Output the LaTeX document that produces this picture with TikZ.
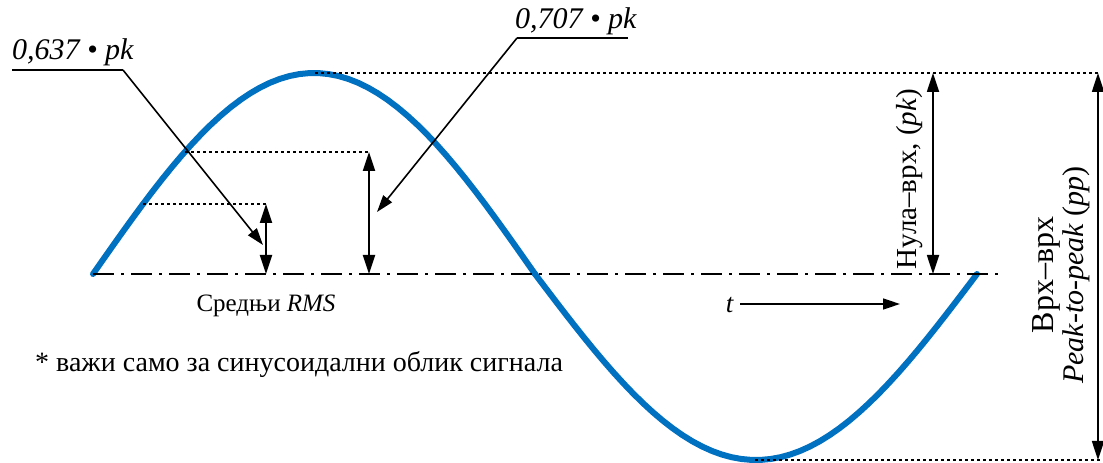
\documentclass[tikz,border=0pt]{standalone}
\usepackage{fontspec}
\setmainfont{Liberation Serif}
\usetikzlibrary{arrows.meta,positioning}
\definecolor{waveblue}{RGB}{0,112,192}

\begin{document}
\begin{tikzpicture}[x=1pt,y=1pt,font=\fontsize{25}{31}\selectfont,
wave/.style={draw=waveblue,line width=6pt,line cap=round,line join=round},
lvl/.style={line width=1.6pt,dash pattern=on 3pt off 3pt},
axisline/.style={line width=1.6pt,dash pattern=on 21pt off 7pt on 3pt off 7pt},
dim/.style={line width=1.8pt,{Triangle[length=19pt,width=12pt]}-{Triangle[length=19pt,width=12pt]}},
lead/.style={line width=1.6pt,-{Triangle[length=17pt,width=11pt]}},
lab/.style={inner sep=0pt},
big/.style={font=\fontsize{30}{30}\selectfont}]
\useasboundingbox (0,0) rectangle (1103,463);
% signal
\draw[wave] plot[domain=0:180,samples=46] ({93+\x*2.4556},{189+201*sin(\x)});
\draw[wave] plot[domain=0:180,samples=46] ({535+\x*2.4556},{189-186*sin(\x)});
% levels
\coordinate (a0) at (93,189);\coordinate (a1) at (1003,189);
\draw[axisline] (a0) -- (a1);
\coordinate (top) at (315,390);\coordinate (topR) at (1100,390);
\coordinate (bot) at (755,3);\coordinate (botR) at (1100,3);
\draw[lvl] (top) -- (topR);\draw[lvl] (bot) -- (botR);
\coordinate (rmsL) at (185,311);\coordinate (rmsR) at (369,311);\coordinate (rms0) at (369,189);
\coordinate (avgL) at (143,259);\coordinate (avgR) at (266,259);\coordinate (avg0) at (266,189);
\draw[lvl] (rmsL) -- (rmsR);\draw[lvl] (avgL) -- (avgR);
\draw[dim] (avgR) -- (avg0);\draw[dim] (rmsR) -- (rms0);
% peak values
\coordinate (pk1) at (933,390);\coordinate (pk0) at (933,189);
\draw[dim] (pk1) -- (pk0);
\node[lab,rotate=90,font=\fontsize{29}{31}\selectfont] (npk) at (910,284) {Нула–врх, (\textit{pk})};
\coordinate (pp1) at (1098,390);\coordinate (pp0) at (1098,3);
\draw[dim] (pp1) -- (pp0);
\node[lab,big,rotate=90,align=center] (npp) at (1061,188) {{\fontsize{32}{30}\selectfont Врх–врх}\\\textit{Peak-to-peak} (\textit{pp})};
% leaders
\node[lab,big,anchor=base west] (n637) at (12,403) {\itshape 0,637 • pk};
\coordinate (u637) at (12,393);\coordinate (k637) at (123,393);\coordinate (t637) at (263,218);
\draw[line width=1.6pt] (u637) -- (k637);\draw[lead] (k637) -- (t637);
\node[lab,big,anchor=base west] (n707) at (515,434) {\itshape 0,707 • pk};
\coordinate (u707) at (628,425);\coordinate (k707) at (517,425);\coordinate (t707) at (377,251);
\draw[line width=1.6pt] (u707) -- (k707);\draw[lead] (k707) -- (t707);
% texts
\node[lab,anchor=base] (nrms) at (266,151) {Средњи \textit{RMS}};
\node[lab,font=\fontsize{27}{31}\selectfont] (nt) at (730,158) {\textit{t}};
\coordinate (tbeg) at (740,159);\coordinate (tend) at (900,159);
\draw[lead] (tbeg) -- (tend);
\node[lab,anchor=base west,font=\fontsize{28}{31}\selectfont] (note) at (35,91) {* важи само за синусоидални облик сигнала};
\end{tikzpicture}
\end{document}
